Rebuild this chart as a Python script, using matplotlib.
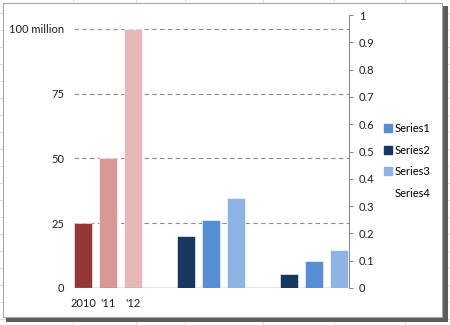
import matplotlib.pyplot as plt
import matplotlib.patches as mpatches
from matplotlib.lines import Line2D
import numpy as np

plt.rcParams['font.family'] = ['Lato', 'DejaVu Sans']

# data
years = ["2010", "'11", "'12"]
red_values = [25, 50, 100]            # millions, left axis
red_colors = ['#953735', '#D99795', '#E6B9B8']

series_names = ['Series1', 'Series2', 'Series3', 'Series4']
series1 = [0, 0.25, 0.10]
series2 = [0, 0.19, 0.05]
series3 = [0, 0.33, 0.14]
blue_colors = {'Series1': '#558ED5', 'Series2': '#17375E', 'Series3': '#8EB4E3'}

left_ticks = [0, 25, 50, 75, 100]
left_labels = ['0', '25', '50', '75', '100 million']
right_ticks = np.round(np.arange(0, 1.01, 0.1), 1)

W, H = 450, 325
fs = 8
txt = '#1E1E1E'
fig = plt.figure(figsize=(W / 100, H / 100), dpi=100)
fig.patch.set_facecolor('white')

# spreadsheet cells behind the chart
for xv in [73, 136, 185, 263, 334, 405]:
    fig.add_artist(Line2D([xv / W, xv / W], [0, 1], color='#D5DCE6', lw=0.8, zorder=-10))
for yv in range(13, H, 17):
    fig.add_artist(Line2D([0, 1], [1 - yv / H, 1 - yv / H], color='#D5DCE6', lw=0.8, zorder=-10))

# chart frame with shadow
fig.add_artist(mpatches.Rectangle((6 / W, 1 - 322 / H), 442 / W, 316 / H,
                                  facecolor='#5C5C5C', edgecolor='none', zorder=-9))
fig.add_artist(mpatches.Rectangle((3 / W, 1 - 317 / H), 439 / W, 314 / H,
                                  facecolor='white', edgecolor='#A6A6A6', lw=0.8, zorder=-8))

ax = fig.add_axes([74 / W, 1 - 288 / H, 275 / W, 273 / H])
ax.patch.set_alpha(0)
ax2 = ax.twinx()

off = 0.243
bw = 0.175
x = np.arange(3)

# red bars on primary axis
ax.bar(x[0] + np.array([-off, 0, off]), red_values, width=bw, color=red_colors,
       edgecolor='white', linewidth=0.4, zorder=3)

# blue series on secondary axis
ax2.bar(x - off, series2, width=bw, color=blue_colors['Series2'], edgecolor='white', linewidth=0.4)
ax2.bar(x, series1, width=bw, color=blue_colors['Series1'], edgecolor='white', linewidth=0.4)
ax2.bar(x + off, series3, width=bw, color=blue_colors['Series3'], edgecolor='white', linewidth=0.4)

ax.set_xlim(-0.33, 2.34)
ax.set_ylim(0, 105.4)
ax2.set_ylim(0, 1)

for v in left_ticks[1:]:
    ax.axhline(v, color='#8C8C8C', lw=0.8, ls=(0, (4, 3)), zorder=1)
ax.axhline(0, color='#8C8C8C', lw=1.0, zorder=4)

for a in (ax, ax2):
    for s in a.spines.values():
        s.set_visible(False)
ax2.spines['right'].set_visible(True)
ax2.spines['right'].set_color('#8C8C8C')

ax.set_yticks(left_ticks)
ax.set_yticklabels(left_labels)
ax.tick_params(axis='y', length=0, pad=7, labelsize=fs, labelcolor=txt)

ax.set_xticks(x[0] + np.array([-off, 0, off]))
ax.set_xticklabels(years)
ax.tick_params(axis='x', length=0, pad=7.5, labelsize=fs, labelcolor=txt)

ax2.set_yticks(right_ticks)
ax2.set_yticklabels([f'{t:g}' for t in right_ticks])
ax2.tick_params(axis='y', length=3, width=0.8, color='#8C8C8C', pad=4,
                labelsize=fs, labelcolor=txt)

handles = [mpatches.Patch(color=blue_colors['Series1']),
           mpatches.Patch(color=blue_colors['Series2']),
           mpatches.Patch(color=blue_colors['Series3']),
           mpatches.Patch(color='none')]
fig.legend(handles, series_names, loc='upper left', bbox_to_anchor=(384 / W, 1 - 123 / H),
           frameon=False, fontsize=fs, handlelength=0.7, handleheight=0.7,
           handletextpad=0.25, labelspacing=0.95, borderpad=0, borderaxespad=0)

fig.savefig('out.png', dpi=100)
